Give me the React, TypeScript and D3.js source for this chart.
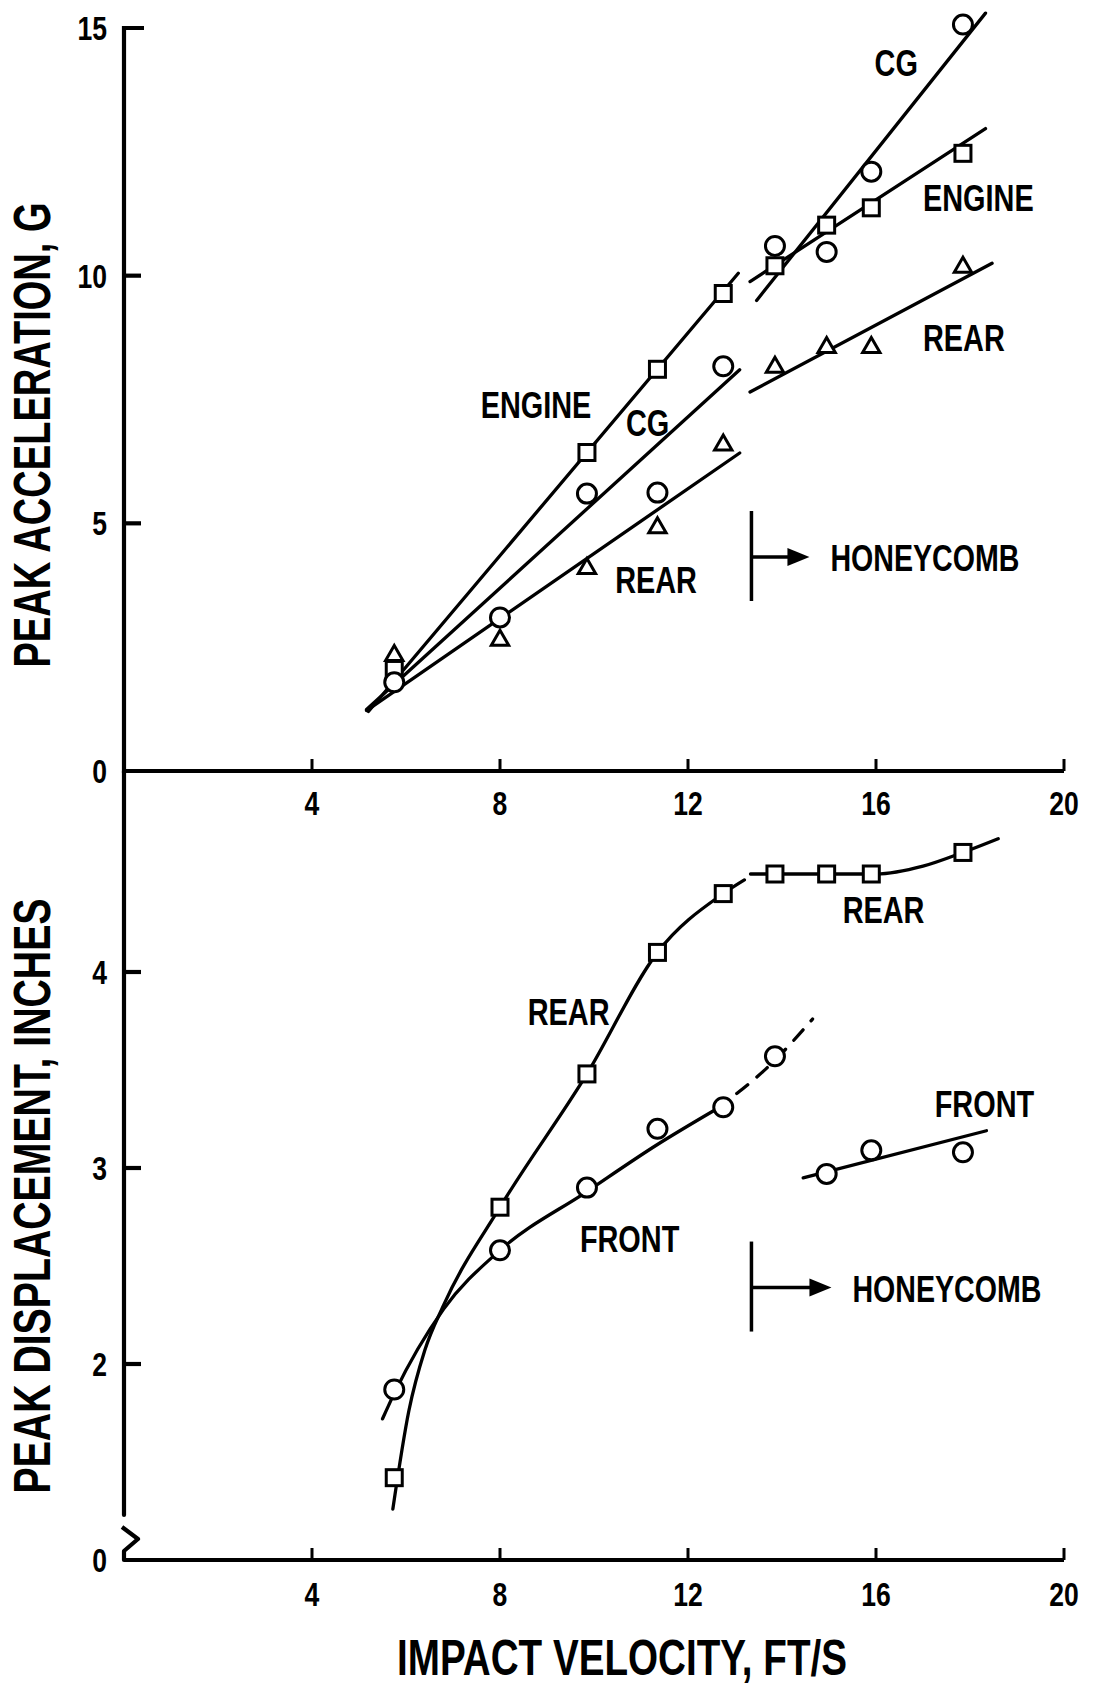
import React from "react";
import * as d3 from "d3";

// impact velocity, ft/s (same drops in both panels)
const velocity = [5.75, 8.0, 9.85, 11.35, 12.75, 13.85, 14.95, 15.9, 17.85];

// peak acceleration, g
const engineAccel = [2.05, null, 6.43, 8.11, 9.64, 10.2, 11.02, 11.37, 12.47];
const cgAccel = [1.79, 3.1, 5.6, 5.62, 8.17, 10.6, 10.48, 12.1, 15.07];
const rearAccel = [2.35, 2.66, 4.11, 4.93, 6.6, 8.17, 8.57, 8.57, 10.19];

// peak displacement, inches
const rearDisp = [1.42, 2.8, 3.48, 4.1, 4.4, 4.5, 4.5, 4.5, 4.61];
const frontDisp = [1.87, 2.58, 2.9, 3.2, 3.31, 3.57, 2.97, 3.09, 3.08];

// faired curves, [velocity, value]
const engineFitPre = [[5.2, 1.2], [13.07, 10.05]];
const engineFitHoney = [[13.32, 9.88], [18.33, 12.97]];
const cgFitPre = [[5.16, 1.24], [13.1, 8.1]];
const cgFitHoney = [[13.46, 9.5], [18.33, 15.3]];
const rearAccFitPre = [[5.16, 1.22], [13.1, 6.42]];
const rearAccFitHoney = [[13.32, 7.65], [18.47, 10.25]];

const rearDispFitPre = [[5.72, 1.26], [6.06, 1.76], [6.4, 2.07], [6.8, 2.3], [8.0, 2.8], [9.85, 3.48], [11.35, 4.1], [12.75, 4.4], [13.2, 4.47]];
const rearDispFitHoney = [[13.33, 4.5], [14.5, 4.5], [16.0, 4.5], [17.0, 4.54], [17.85, 4.61], [18.6, 4.68]];
const frontDispFitPre = [[5.5, 1.72], [5.75, 1.85], [6.8, 2.28], [8.0, 2.58], [9.85, 2.88], [11.35, 3.12], [12.6, 3.3]];
const frontDispFitDash = [[12.6, 3.3], [13.85, 3.55], [14.65, 3.76]];
const frontDispFitHoney = [[14.45, 2.95], [18.35, 3.19]];

// axes
const xTicks = [4, 8, 12, 16, 20];
const accTicks = [0, 5, 10, 15];
const dispTicks = [0, 2, 3, 4];
const honeycombStart = 13.35;

// curve labels: text, velocity, value
const accLabels: [string, number, number][] = [
  ["CG", 15.97, 14.03],
  ["ENGINE", 17.0, 11.3],
  ["REAR", 17.0, 8.48],
  ["ENGINE", 7.59, 7.13],
  ["CG", 10.68, 6.76],
  ["REAR", 10.45, 3.6],
];
const dispLabels: [string, number, number][] = [
  ["REAR", 15.29, 4.25],
  ["REAR", 8.59, 3.73],
  ["FRONT", 17.25, 3.26],
  ["FRONT", 9.7, 2.57],
];

// no condensed face installed, so squeeze a regular bold one
const FONT = "'Liberation Sans', Arial, 'DejaVu Sans', sans-serif";
const SQUEEZE = 0.78;

const x = d3.scaleLinear().domain([0, 20]).range([124, 1064]);
const yA = d3.scaleLinear().domain([0, 15]).range([771, 28]);
// broken axis: 0..1 in. is cut out, so "0" sits where 1 would be
const yD = d3.scaleLinear().domain([0, 1, 5]).range([1560, 1560, 776]);

function T({ x: tx, y: ty, size, anchor, children }: any) {
  return (
    <text transform={`translate(${tx},${ty}) scale(${SQUEEZE},1)`} fontSize={size}
      textAnchor={anchor || "start"} fontFamily={FONT} fontWeight="bold" fill="#000">
      {children}
    </text>
  );
}

function Marker({ kind, cx, cy }: { kind: string; cx: number; cy: number }) {
  const s = { fill: "#fff", stroke: "#000", strokeWidth: 3 };
  if (kind === "circle") return <circle cx={cx} cy={cy} r={9.5} {...s} />;
  if (kind === "square") return <rect x={cx - 8} y={cy - 8} width={16} height={16} {...s} />;
  const sym = d3.symbol(d3.symbolTriangle, 130)();
  return <path d={sym || ""} transform={`translate(${cx},${cy + 1})`} {...s} />;
}

function Series({ vals, kind, y }: { vals: (number | null)[]; kind: string; y: any }) {
  return (
    <g>
      {vals.map((v, i) =>
        v == null ? null : <Marker key={i} kind={kind} cx={x(velocity[i])} cy={y(v)} />
      )}
    </g>
  );
}

function Fit({ pts, y, dash }: { pts: number[][]; y: any; dash?: string }) {
  const line = d3
    .line<number[]>()
    .x((d) => x(d[0]))
    .y((d) => y(d[1]))
    .curve(d3.curveMonotoneX);
  return (
    <path d={line(pts) || ""} fill="none" stroke="#000" strokeWidth={3.3}
      strokeDasharray={dash} strokeLinecap="round" />
  );
}

function Honeycomb({ cy, len }: { cy: number; len: number }) {
  const x0 = x(honeycombStart);
  return (
    <g>
      <line x1={x0} x2={x0} y1={cy - 46} y2={cy + 44} stroke="#000" strokeWidth={3.5} />
      <line x1={x0} x2={x0 + len - 18} y1={cy} y2={cy} stroke="#000" strokeWidth={3.5} />
      <path d={`M${x0 + len},${cy} L${x0 + len - 22},${cy - 9} L${x0 + len - 22},${cy + 9} Z`} fill="#000" />
      <text x={x0 + len + 21} y={cy + 14} fontSize={36} fontWeight="bold" fontFamily={FONT}
        textLength={189} lengthAdjust="spacingAndGlyphs">HONEYCOMB</text>
    </g>
  );
}

export default function App() {
  const txt = { fontFamily: FONT, fontWeight: "bold" as const, fill: "#000" };
  const axisW = 4.2;
  const x0 = x(0);
  const x20 = x(20);
  const dBase = yD(0);

  return (
    <svg width={1093} height={1688} style={{ position: "absolute", left: 0, top: 0, background: "#fff" }}>
      <rect width={1093} height={1688} fill="#fff" />

      {/* ---------- top panel: acceleration ---------- */}
      <path d={`M${x0 + 20},${yA(15)} L${x0},${yA(15)} L${x0},${yA(0)} L${x20},${yA(0)}`}
        fill="none" stroke="#000" strokeWidth={axisW} strokeLinejoin="miter" />
      {accTicks.filter((t) => t > 0 && t < 15).map((t) => (
        <line key={t} x1={x0} x2={x0 + 17} y1={yA(t)} y2={yA(t)} stroke="#000" strokeWidth={axisW} />
      ))}
      {accTicks.map((t) => (
        <T key={t} x={x0 - 17} y={yA(t) + 12} size={34} anchor="end">{t}</T>
      ))}
      {xTicks.map((t) => (
        <g key={t}>
          <line x1={x(t)} x2={x(t)} y1={yA(0)} y2={yA(0) - 12} stroke="#000" strokeWidth={3} />
          <T x={x(t)} y={yA(0) + 44} size={34} anchor="middle">{t}</T>
        </g>
      ))}
      <text transform={`translate(50,435) rotate(-90)`} fontSize={51} textAnchor="middle"
        textLength={465} lengthAdjust="spacingAndGlyphs" {...txt}>PEAK ACCELERATION, G</text>

      <Fit pts={engineFitPre} y={yA} />
      <Fit pts={engineFitHoney} y={yA} />
      <Fit pts={cgFitPre} y={yA} />
      <Fit pts={cgFitHoney} y={yA} />
      <Fit pts={rearAccFitPre} y={yA} />
      <Fit pts={rearAccFitHoney} y={yA} />
      <Series vals={rearAccel} kind="triangle" y={yA} />
      <Series vals={engineAccel} kind="square" y={yA} />
      <Series vals={cgAccel} kind="circle" y={yA} />
      {accLabels.map(([s, v, a], i) => (
        <T key={i} x={x(v)} y={yA(a)} size={37}>{s}</T>
      ))}
      <Honeycomb cy={yA(4.32)} len={58} />

      {/* ---------- bottom panel: displacement ---------- */}
      <path d={`M${x0},${yA(0)} L${x0},${dBase - 45}`} fill="none" stroke="#000"
        strokeWidth={axisW} strokeLinecap="round" />
      <path d={`M${x0 - 2},${dBase - 33} L${x0 + 14},${dBase - 21} L${x0},${dBase - 9} L${x0},${dBase} L${x20},${dBase}`}
        fill="none" stroke="#000" strokeWidth={axisW} strokeLinejoin="round" />
      {dispTicks.filter((t) => t > 0).map((t) => (
        <line key={t} x1={x0} x2={x0 + 17} y1={yD(t)} y2={yD(t)} stroke="#000" strokeWidth={axisW} />
      ))}
      {dispTicks.map((t) => (
        <T key={t} x={x0 - 17} y={yD(t) + 12} size={34} anchor="end">{t}</T>
      ))}
      {xTicks.map((t) => (
        <g key={t}>
          <line x1={x(t)} x2={x(t)} y1={dBase} y2={dBase - 12} stroke="#000" strokeWidth={3} />
          <T x={x(t)} y={dBase + 46} size={34} anchor="middle">{t}</T>
        </g>
      ))}
      <text transform={`translate(50,1196) rotate(-90)`} fontSize={51} textAnchor="middle"
        textLength={595} lengthAdjust="spacingAndGlyphs" {...txt}>PEAK DISPLACEMENT, INCHES</text>
      <text x={622} y={1675} fontSize={50} textAnchor="middle" textLength={450}
        lengthAdjust="spacingAndGlyphs" {...txt}>IMPACT VELOCITY, FT/S</text>

      <Fit pts={rearDispFitPre} y={yD} />
      <Fit pts={rearDispFitHoney} y={yD} />
      <Fit pts={frontDispFitPre} y={yD} />
      <Fit pts={frontDispFitDash} y={yD} dash="14 12" />
      <Fit pts={frontDispFitHoney} y={yD} />
      <Series vals={rearDisp} kind="square" y={yD} />
      <Series vals={frontDisp} kind="circle" y={yD} />
      {dispLabels.map(([s, v, a], i) => (
        <T key={i} x={x(v)} y={yD(a)} size={37}>{s}</T>
      ))}
      <Honeycomb cy={yD(2.39)} len={80} />
    </svg>
  );
}
